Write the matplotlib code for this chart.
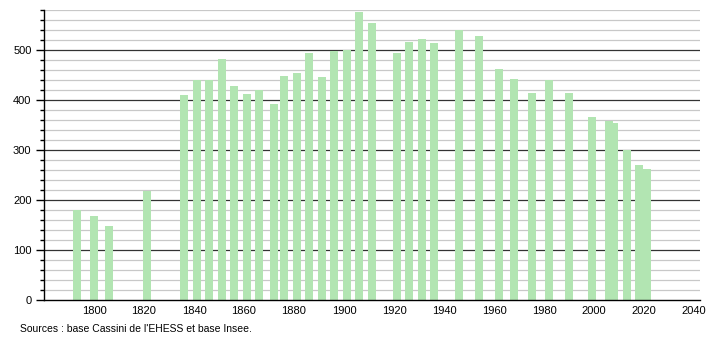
import matplotlib
matplotlib.use("Agg")
import matplotlib.pyplot as plt
from matplotlib.ticker import MultipleLocator

years = [1793, 1800, 1806, 1821, 1836, 1841, 1846, 1851, 1856, 1861, 1866,
         1872, 1876, 1881, 1886, 1891, 1896, 1901, 1906, 1911, 1921, 1926,
         1931, 1936, 1946, 1954, 1962, 1968, 1975, 1982, 1990, 1999, 2006,
         2008, 2013, 2018, 2021]
population = [180, 168, 148, 219, 410, 440, 440, 482, 428, 412, 420,
              392, 448, 454, 494, 446, 498, 500, 576, 554, 494, 516,
              522, 514, 540, 528, 462, 442, 414, 440, 414, 366, 359,
              354, 300, 270, 262]
xticks = [1800, 1820, 1840, 1860, 1880, 1900, 1920, 1940, 1960, 1980, 2000, 2020, 2040]
yticks = [0, 100, 200, 300, 400, 500]
source_text = "Sources : base Cassini de l'EHESS et base Insee."

plt.rcParams['font.family'] = ['Liberation Sans', 'DejaVu Sans']

fig = plt.figure(figsize=(7.1, 3.4), dpi=100)
ax = fig.add_axes([44/710, 40/340, 656/710, 290/340])

ax.set_xlim(1780, 2042.4)
ax.set_ylim(0, 580)

# gridlines
for v in range(20, 581, 20):
    if v % 100 == 0:
        ax.axhline(v, color='#333333', lw=0.9, zorder=1)
    else:
        ax.axhline(v, color='#c8c8c8', lw=0.9, zorder=1)

ax.bar(years, population, width=3.2, color='#b2e5b2', zorder=2, linewidth=0)

ax.set_xticks(xticks)
ax.set_xticklabels([str(t) for t in xticks], fontsize=8)
ax.tick_params(axis='x', length=0, pad=4)
ax.set_yticks(yticks)
ax.set_yticklabels([str(t) for t in yticks], fontsize=8)
ax.yaxis.set_minor_locator(MultipleLocator(20))
ax.tick_params(axis='y', which='major', length=6, width=1, color='black', pad=3)
ax.tick_params(axis='y', which='minor', length=3, width=1, color='black')

for s in ['top', 'right']:
    ax.spines[s].set_visible(False)
ax.spines['left'].set_color('black')
ax.spines['bottom'].set_color('black')
ax.spines['left'].set_linewidth(1)
ax.spines['bottom'].set_linewidth(1)

fig.text(20/710, 1 - 329/340, source_text, fontsize=7.5, va='center', ha='left')

fig.savefig("out.png", dpi=100)
